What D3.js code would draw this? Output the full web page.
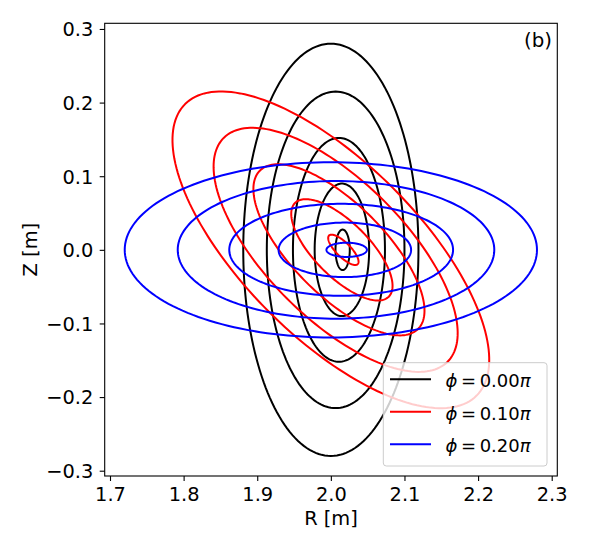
<!DOCTYPE html>
<html>
<head>
<meta charset="utf-8">
<script src="https://cdn.jsdelivr.net/npm/d3@7"></script>
<style>
  body { margin: 0; background: #fff; }
  text { font-family: "DejaVu Sans", sans-serif; fill: #000; }
</style>
</head>
<body>
<svg id="chart" width="600" height="550"></svg>
<script>
// toroidal angles (in units of pi) and their colours
var phiLabels = ["0.00", "0.10", "0.20"];
var phiColors = ["#000000", "#ff0000", "#0000ff"];
// tilt of the long axis of each cross-section, degrees from the R axis
var phiTilt = [90, 135, 180];

// flux surfaces, inner -> outer : semi axes in metres
var semiMajor = [0.0275, 0.090, 0.152, 0.215, 0.280];
var semiMinor = [0.0097, 0.037, 0.0625, 0.0935, 0.119];
// magnetic axis shift of each surface, per angle
var centreR = [
  [2.016, 2.015, 2.011, 2.0065, 2.000],
  [2.017, 2.015, 2.011, 2.0065, 2.000],
  [2.0215, 2.019, 2.014, 2.007, 2.000]
];

var xTicks = [1.7, 1.8, 1.9, 2.0, 2.1, 2.2, 2.3];
var yTicks = [-0.3, -0.2, -0.1, 0.0, 0.1, 0.2, 0.3];

// plot box (px)
var pL = 104.7, pR = 557.3, pT = 23.3, pB = 476;
var FS = 19.4, LFS = 18;

var SVG = d3.select("#chart");

var x = d3.scaleLinear().domain([1.6928, 2.3076]).range([pL, pR]);
var y = d3.scaleLinear().domain([-0.3072, 0.3077]).range([pB, pT]);

// build one closed cross-section
function surface(rc, a, b, tiltDeg){
  var th = tiltDeg * Math.PI / 180;
  var pts = d3.range(0, 361, 2).map(function(deg){
    var t = deg * Math.PI / 180;
    return [rc + a*Math.cos(t)*Math.cos(th) - b*Math.sin(t)*Math.sin(th),
                 a*Math.cos(t)*Math.sin(th) + b*Math.sin(t)*Math.cos(th)];
  });
  return pts;
}

var line = d3.line()
  .x(function(d){ return x(d[0]); })
  .y(function(d){ return y(d[1]); })
  .curve(d3.curveLinearClosed);

var curves = SVG.append("g");
phiLabels.forEach(function(p, k){
  semiMajor.forEach(function(a, i){
    curves.append("path")
      .attr("d", line(surface(centreR[k][i], a, semiMinor[i], phiTilt[k])))
      .attr("fill", "none")
      .attr("stroke", phiColors[k])
      .attr("stroke-width", 2);
  });
});

// frame
SVG.append("rect")
  .attr("x", pL).attr("y", pT)
  .attr("width", pR - pL).attr("height", pB - pT)
  .attr("fill", "none").attr("stroke", "#000").attr("stroke-width", 1.1);

// x axis
var xa = SVG.append("g").attr("transform", "translate(0," + pB + ")")
  .call(d3.axisBottom(x).tickValues(xTicks).tickFormat(d3.format(".1f")).tickSize(5).tickPadding(5));
xa.select(".domain").remove();
xa.selectAll("line").attr("stroke", "#000").attr("stroke-width", 1.1);
xa.selectAll("text").attr("font-size", FS).attr("font-family", "DejaVu Sans").attr("fill", "#000")
  .attr("dy", 0).attr("y", 24.5);

// y axis
var ya = SVG.append("g").attr("transform", "translate(" + pL + ",0)")
  .call(d3.axisLeft(y).tickValues(yTicks).tickFormat(d3.format(".1f")).tickSize(5).tickPadding(6.4));
ya.select(".domain").remove();
ya.selectAll("line").attr("stroke", "#000").attr("stroke-width", 1.1);
ya.selectAll("text").attr("font-size", FS).attr("font-family", "DejaVu Sans").attr("fill", "#000")
  .attr("dy", "0.35em");

// axis titles
SVG.append("text").attr("x", (pL + pR) / 2).attr("y", 524.5)
  .attr("text-anchor", "middle").attr("font-size", FS).text("R [m]");
SVG.append("text").attr("transform", "translate(37," + (pT + pB) / 2 + ") rotate(-90)")
  .attr("text-anchor", "middle").attr("font-size", FS).text("Z [m]");

// panel tag
SVG.append("text").attr("x", 552).attr("y", 47).attr("text-anchor", "end")
  .attr("font-size", 19.8).text("(b)");

// legend
var lg = SVG.append("g");
lg.append("rect").attr("x", 383.3).attr("y", 362.7).attr("width", 163.7).attr("height", 103.3)
  .attr("rx", 3).attr("fill", "#fff").attr("fill-opacity", 0.8)
  .attr("stroke", "#cccccc").attr("stroke-width", 1);
phiLabels.forEach(function(p, k){
  var ly = 379.3 + k * 32.5;
  lg.append("line").attr("x1", 390).attr("x2", 431).attr("y1", ly).attr("y2", ly)
    .attr("stroke", phiColors[k]).attr("stroke-width", 2);
  var t = lg.append("text").attr("x", 445.5).attr("y", ly + 8).attr("font-size", LFS);
  t.append("tspan").attr("font-style", "italic").text("\u03D5");
  t.append("tspan").text("\u2009=\u2009" + p);
  t.append("tspan").attr("font-style", "italic").text("\u03C0");
});
</script>
</body>
</html>
